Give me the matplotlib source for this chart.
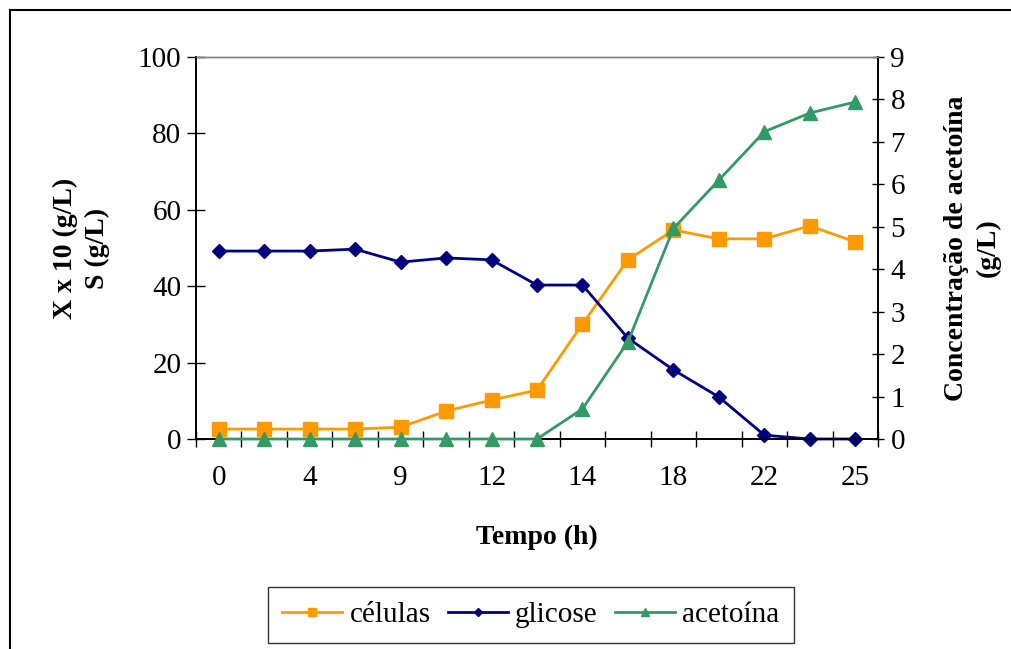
import matplotlib
matplotlib.use("Agg")
import matplotlib.pyplot as plt
from matplotlib.lines import Line2D

plt.rcParams['font.family'] = ['Liberation Serif', 'DejaVu Serif']

tempo = ["0", "2", "4", "6", "9", "10", "12", "13", "14", "16", "18", "20", "22", "24", "25"]
celulas = [2.6, 2.6, 2.6, 2.6, 3.1, 7.3, 10.2, 12.8, 30.1, 46.9, 54.7, 52.4, 52.4, 55.8, 51.6]
glicose = [49.2, 49.2, 49.2, 49.7, 46.3, 47.4, 46.9, 40.3, 40.3, 26.4, 18.1, 11.0, 1.0, 0.0, 0.0]
acetoina = [0, 0, 0, 0, 0, 0, 0, 0, 0.71, 2.29, 4.96, 6.10, 7.24, 7.68, 7.94]

fig = plt.figure(figsize=(10.12, 6.49), dpi=100)
ax = fig.add_axes([196/1012, 1-439/649, (878-196)/1012, (439-57)/649])
ax2 = ax.twinx()

x = list(range(len(tempo)))
c_cel = '#FF9900'
c_gli = '#000080'
c_ace = '#339966'

l1, = ax.plot(x, celulas, color=c_cel, marker='s', ms=9.5, lw=2, label='células', zorder=3, clip_on=False)
l2, = ax.plot(x, glicose, color=c_gli, marker='D', ms=7, lw=2, label='glicose', zorder=3, clip_on=False)
l3, = ax2.plot(x, acetoina, color=c_ace, marker='^', ms=9.5, lw=2, label='acetoína', zorder=3, clip_on=False)

ax.set_xlim(-0.5, len(tempo) - 0.5)
ax.set_ylim(0, 100)
ax2.set_ylim(0, 9)
ax.set_yticks(range(0, 101, 20))
ax2.set_yticks(range(0, 10))

ax.set_xticks([i + 0.5 for i in range(-1, len(tempo))])
ax.set_xticklabels([])
ax.set_xticks(x[::2], minor=True)
ax.set_xticklabels(tempo[::2], minor=True)
ax.tick_params(axis='x', which='major', direction='inout', length=12, width=1, colors='black')
ax.tick_params(axis='x', which='minor', length=0, pad=19, labelsize=21)
ax.tick_params(axis='y', direction='inout', length=13, width=1, labelsize=21, pad=4)
ax2.tick_params(axis='y', direction='inout', length=8, width=1, labelsize=21, pad=5)

for a in (ax, ax2):
    a.spines['top'].set_color('#808080')
    a.spines['top'].set_linewidth(1)
    a.spines['left'].set_linewidth(1.2)
    a.spines['right'].set_linewidth(1.2)
    a.spines['bottom'].set_linewidth(1.2)

ax.set_xlabel('Tempo (h)', fontsize=20, fontweight='bold', labelpad=24)
ax.set_ylabel('X x 10 (g/L)\nS (g/L)', fontsize=20, fontweight='bold', labelpad=20, linespacing=1.35)
ax2.set_ylabel('Concentração de acetoína\n(g/L)', fontsize=20, fontweight='bold', labelpad=28, linespacing=1.35)

leg = fig.legend(handles=[l1, l2, l3], loc='center', bbox_to_anchor=(531/1012, 1-615/649),
                 ncol=3, fontsize=21, frameon=True, fancybox=False, edgecolor='black',
                 handlelength=2.05, handletextpad=0.25, columnspacing=0.6, borderpad=0.5,
                 borderaxespad=0, markerscale=0.65)
leg.get_frame().set_linewidth(1)

fig.add_artist(Line2D([10/1012, 10/1012], [0, 1-10/649], transform=fig.transFigure, color='black', lw=1.5))
fig.add_artist(Line2D([10/1012, 1], [1-10/649, 1-10/649], transform=fig.transFigure, color='black', lw=1.5))

fig.savefig('out.png', dpi=100)
